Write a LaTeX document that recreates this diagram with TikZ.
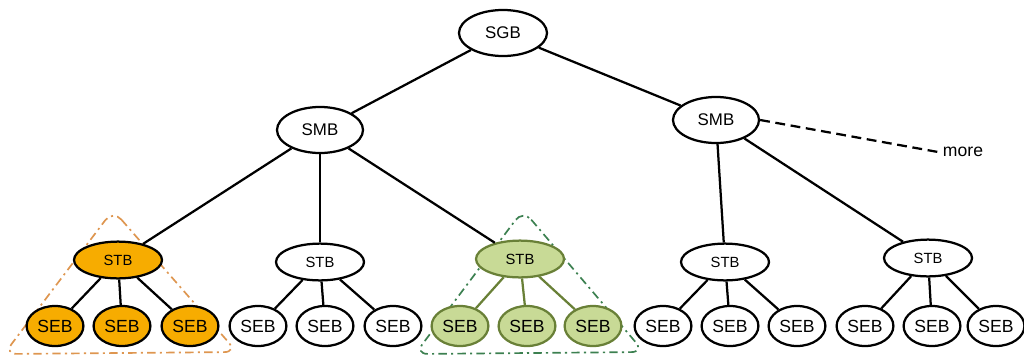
\documentclass[tikz,border=0pt]{standalone}
\usepackage{fontspec}
\setmainfont{Liberation Sans}
\usetikzlibrary{shapes.geometric}

\definecolor{tbfill}{RGB}{247,172,0}
\definecolor{tbdash}{RGB}{222,150,80}
\definecolor{grfill}{RGB}{200,218,150}
\definecolor{grline}{RGB}{105,128,55}
\definecolor{grdash}{RGB}{60,128,80}

\begin{document}
\begin{tikzpicture}[x=0.025cm,y=-0.025cm,
  blk/.style={ellipse,draw=black,line width=1.6pt,inner sep=0pt,fill=white},
  gb/.style={blk,minimum width=2.2cm,minimum height=1.15cm,font=\fontsize{12}{13}\selectfont},
  mb/.style={blk,minimum width=2.15cm,minimum height=1.15cm,font=\fontsize{12}{13}\selectfont},
  tb/.style={blk,minimum width=2.2cm,minimum height=0.92cm,font=\fontsize{10.5}{11}\selectfont},
  eb/.style={blk,minimum width=1.42cm,minimum height=1.0cm,font=\fontsize{12.5}{13}\selectfont},
  orng/.style={fill=tbfill},
  grn/.style={fill=grfill,draw=grline},
  link/.style={line width=1.6pt},
  hull/.style={line width=1.2pt,rounded corners=9pt,dash pattern=on 6pt off 3pt on 1.5pt off 3pt}]
\useasboundingbox (0,0) rectangle (1024,356);

% hulls round the marked subtrees
\draw [hull,tbdash] (113,210) -- (237,352) -- (4,354) -- cycle;
\draw [hull,grdash] (523,210) -- (644,352) -- (415,354) -- cycle;

% root and middle level
\node [gb] (sgb) at (503,33) {SGB};
\node [mb] (smbl) at (320,130) {SMB};
\node [mb] (smbr) at (716,120) {SMB};
\node [font=\fontsize{12.5}{13}\selectfont] (more) at (963,152) {more};

% STB level
\node [tb,orng] (stb1) at (118,260) {STB};
\node [tb] (stb2) at (320,262) {STB};
\node [tb,grn] (stb3) at (520,259) {STB};
\node [tb] (stb4) at (725,262) {STB};
\node [tb] (stb5) at (928,258) {STB};

% SEB level
\foreach \i/\x in {1/55,2/122,3/190} \node [eb,orng] (seb\i) at (\x,326) {SEB};
\foreach \i/\x in {4/258,5/325,6/393} \node [eb] (seb\i) at (\x,326) {SEB};
\foreach \i/\x in {7/460,8/527,9/593} \node [eb,grn] (seb\i) at (\x,326) {SEB};
\foreach \i/\x in {10/663,11/730,12/797,13/865,14/932,15/996} \node [eb] (seb\i) at (\x,326) {SEB};

% connectors
\draw [link] (sgb) -- (smbl);
\draw [link] (sgb) -- (smbr);
\draw [link] (smbl) -- (stb1);
\draw [link] (smbl) -- (stb2);
\draw [link] (smbl) -- (stb3);
\draw [link] (smbr) -- (stb4);
\draw [link] (smbr) -- (stb5);
\draw [link,dash pattern=on 7pt off 4pt] (smbr.east) -- (more.west);
\foreach \a/\b in {1/1,1/2,1/3,2/4,2/5,2/6,4/10,4/11,4/12,5/13,5/14,5/15}
  \draw [link] (stb\a) -- (seb\b);
\foreach \b in {7,8,9}
  \draw [link,grline] (stb3) -- (seb\b);
\end{tikzpicture}
\end{document}
